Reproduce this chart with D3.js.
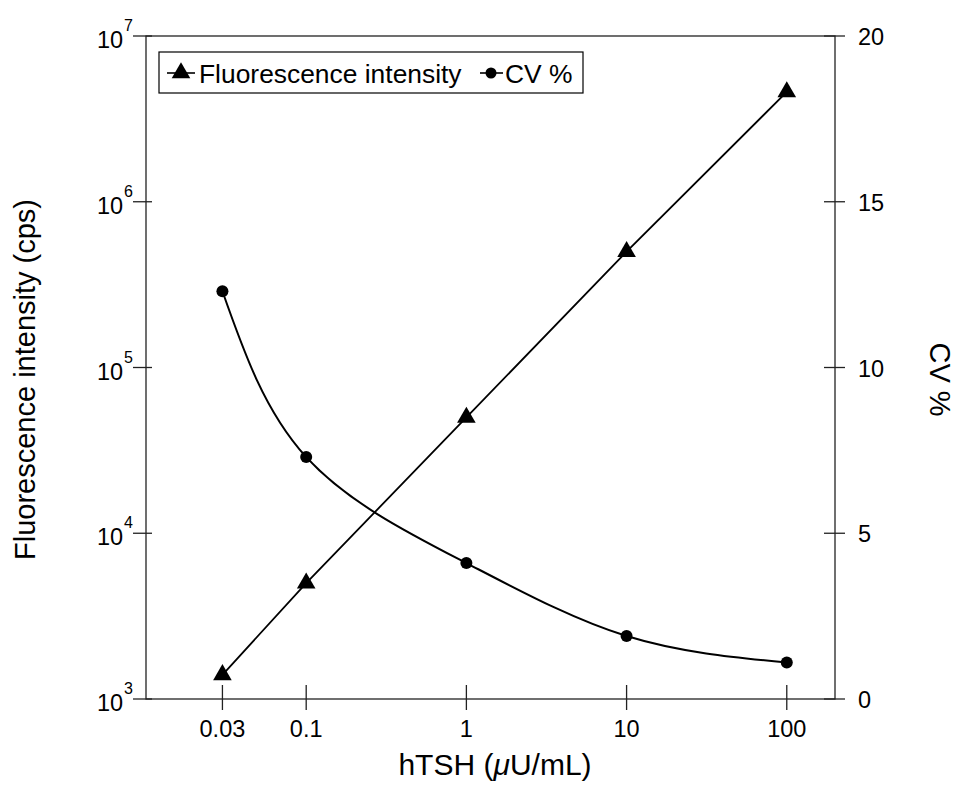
<!DOCTYPE html>
<html><head><meta charset="utf-8">
<script src="https://cdn.jsdelivr.net/npm/d3@7"></script>
<style>body{margin:0;background:#fff}svg{display:block}text{font-family:"Liberation Sans",Arial,Helvetica,sans-serif;fill:#000}</style>
</head><body><svg id="c" width="956" height="785"></svg>
<script>
const concentrations = [0.03, 0.1, 1, 10, 100];
const fluorescence = [1400, 5000, 50000, 500000, 4600000];
const cvPercent = [12.3, 7.3, 4.1, 1.9, 1.1];
const xTickValues = [0.03, 0.1, 1, 10, 100];
const xTickLabels = ["0.03", "0.1", "1", "10", "100"];
const leftExponents = [3, 4, 5, 6, 7];
const rightTicks = [0, 5, 10, 15, 20];
const legendLabels = ["Fluorescence intensity", "CV %"];

const W = 956, H = 785;
const m = {l:146, r:121, t:36, b:86};
const x0 = m.l, x1 = W - m.r, y0 = H - m.b, y1 = m.t;
const svg = d3.select("#c");

const x = d3.scaleLog().domain([0.01, 200]).range([x0, x1]);
const yL = d3.scaleLog().domain([1e3, 1e7]).range([y0, y1]);
const yR = d3.scaleLinear().domain([0, 20]).range([y0, y1]);

const axisColor = "#222";
svg.append("rect").attr("x", x0).attr("y", y1).attr("width", x1 - x0).attr("height", y0 - y1)
  .attr("fill", "none").attr("stroke", axisColor).attr("stroke-width", 1.3);

const gx = svg.append("g");
xTickValues.forEach((v, i) => {
  gx.append("line").attr("x1", x(v)).attr("x2", x(v)).attr("y1", y0 - 14).attr("y2", y0 + 11)
    .attr("stroke", axisColor).attr("stroke-width", 1.3);
  gx.append("text").attr("x", x(v)).attr("y", y0 + 38).attr("text-anchor", "middle")
    .attr("font-size", 23.5).text(xTickLabels[i]);
});

const gl = svg.append("g");
leftExponents.forEach(e => {
  const yy = yL(Math.pow(10, e));
  gl.append("line").attr("x1", x0 - 13).attr("x2", x0 + 6).attr("y1", yy).attr("y2", yy)
    .attr("stroke", axisColor).attr("stroke-width", 1.3);
  const t = gl.append("text").attr("x", x0 - 13).attr("y", yy + 12).attr("text-anchor", "end").attr("font-size", 23.5);
  t.append("tspan").text("10");
  t.append("tspan").attr("font-size", 16).attr("dx", 1).attr("dy", -17).text(String(e));
});

const gr = svg.append("g");
rightTicks.forEach(v => {
  const yy = yR(v);
  gr.append("line").attr("x1", x1 - 11).attr("x2", x1 + 10).attr("y1", yy).attr("y2", yy)
    .attr("stroke", axisColor).attr("stroke-width", 1.3);
  gr.append("text").attr("x", x1 + 23).attr("y", yy + 9).attr("font-size", 23.5).text(v);
});

svg.append("text").attr("transform", `translate(495,775)`).attr("text-anchor", "middle")
  .attr("font-size", 30)
  .html('hTSH (<tspan font-style="italic">μ</tspan>U/mL)');
svg.append("text").attr("transform", `translate(35,${(y0+y1)/2 + 12}) rotate(-90)`).attr("text-anchor", "middle")
  .attr("font-size", 29).text("Fluorescence intensity (cps)");
svg.append("text").attr("transform", `translate(930,${(y0+y1)/2 + 12}) rotate(90)`).attr("text-anchor", "middle")
  .attr("font-size", 29).text("CV %");

const fData = concentrations.map((c, i) => [c, fluorescence[i]]);
const cData = concentrations.map((c, i) => [c, cvPercent[i]]);

svg.append("path").datum(fData)
  .attr("d", d3.line().x(d => x(d[0])).y(d => yL(d[1])))
  .attr("fill", "none").attr("stroke", "#000").attr("stroke-width", 1.8);
svg.append("path").datum(cData)
  .attr("d", d3.line().x(d => x(d[0])).y(d => yR(d[1])).curve(d3.curveNatural))
  .attr("fill", "none").attr("stroke", "#000").attr("stroke-width", 2);

const tri = d3.symbol().type(d3.symbolTriangle).size(150);
svg.selectAll(".tri").data(fData).join("path")
  .attr("transform", d => `translate(${x(d[0])},${yL(d[1])})`).attr("d", tri).attr("fill", "#000");
svg.selectAll(".dot").data(cData).join("circle")
  .attr("cx", d => x(d[0])).attr("cy", d => yR(d[1])).attr("r", 6).attr("fill", "#000");

const lg = svg.append("g");
lg.append("rect").attr("x", 159).attr("y", 52).attr("width", 424).attr("height", 41)
  .attr("fill", "#fff").attr("stroke", "#000").attr("stroke-width", 1.2);
lg.append("line").attr("x1", 167).attr("x2", 195).attr("y1", 73).attr("y2", 73).attr("stroke", "#000").attr("stroke-width", 1.6);
lg.append("path").attr("transform", "translate(181,73)").attr("d", tri).attr("fill", "#000");
lg.append("text").attr("x", 199).attr("y", 83).attr("font-size", 26.4).text(legendLabels[0]);
lg.append("line").attr("x1", 480).attr("x2", 503).attr("y1", 73).attr("y2", 73).attr("stroke", "#000").attr("stroke-width", 1.6);
lg.append("circle").attr("cx", 491).attr("cy", 73).attr("r", 5.5).attr("fill", "#000");
lg.append("text").attr("x", 505).attr("y", 83).attr("font-size", 26.4).text(legendLabels[1]);
</script></body></html>
